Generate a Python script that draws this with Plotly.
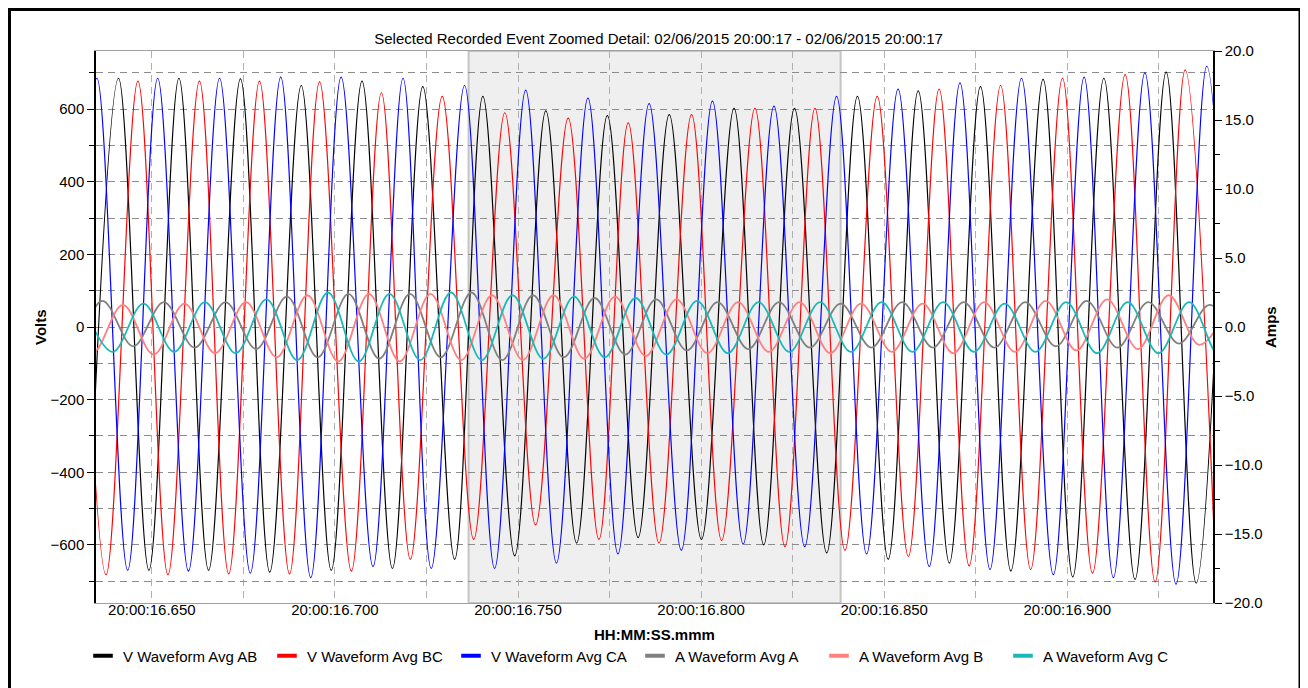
import plotly.graph_objects as go
from datetime import datetime, timedelta

# ---------------- data (times in ms relative to 20:00:16.650) ----------------
BASE = datetime(2015, 2, 6, 20, 0, 16, 650000)
X_RANGE_MS = [-15.25, 289.8]
EVENT_MS = [86.5, 188.1]  # selected (shaded) event window

# Voltage waveform extremes (peak / trough)
AB_T = [-17.6, -9.1, -0.8, 7.4, 15.5, 24.2, 32.2, 40.8, 49.0, 57.4, 65.7, 74.0, 82.7, 90.4, 99.1,
        107.6, 116.0, 124.4, 132.8, 141.3, 150.1, 159.0, 167.1, 175.5, 184.3, 192.7, 201.1, 209.3,
        217.8, 226.3, 234.6, 243.4, 251.5, 260.0, 268.5, 277.0, 285.2, 293.6]
AB_V = [-670, 685, -670, 685, -670, 683, -675, 665, -670, 677, -665, 662, -640, 635, -630,
        595, -595, 582, -580, 585, -585, 602, -600, 602, -622, 635, -640, 650,
        -650, 662, -672, 682, -688, 685, -695, 702, -705, 700]

BC_T = [-20.6, -12.5, -3.8, 4.4, 13.0, 21.0, 29.4, 37.6, 45.8, 54.5, 62.7, 70.6, 79.3, 87.9, 96.4,
        104.8, 113.7, 122.1, 130.1, 138.5, 147.4, 155.6, 164.7, 172.9, 181.1, 189.3, 198.1, 206.6,
        215.0, 223.2, 231.8, 240.0, 248.7, 256.9, 265.8, 274.0, 282.2, 290.6]
BC_V = [677, -682, 677, -682, 677, -680, 677, -680, 675, -672, 645, -640, 635, -585, 590,
        -545, 575, -585, 562, -595, 585, -588, 602, -605, 602, -615, 635, -632,
        655, -658, 665, -668, 685, -678, 695, -702, 708, -690]

CA_T = [-23.4, -15.0, -6.6, 1.6, 10.0, 18.5, 26.9, 35.2, 43.4, 51.7, 60.4, 68.6, 76.3, 85.4, 93.6,
        102.1, 110.5, 119.1, 127.3, 135.8, 144.6, 153.1, 161.5, 169.9, 178.3, 187.0, 195.2, 203.8,
        212.3, 220.7, 228.9, 237.5, 246.2, 254.6, 262.6, 271.2, 279.7, 288.1, 296.5]
CA_V = [-670, 685, -670, 685, -672, 685, -678, 688, -690, 688, -660, 685, -665, 665, -665,
        652, -650, 630, -625, 615, -615, 622, -598, 608, -605, 635, -625, 655,
        -660, 672, -668, 685, -682, 688, -690, 700, -708, 718, -700]

# Current waveform extremes (amps)
IA_T = [-30.3, -21.9, -13.5, -5.1, 3.3, 11.7, 20.1, 28.5, 36.9, 45.3, 53.7, 62.1, 70.5, 78.9, 87.3,
        95.7, 104.1, 112.5, 120.9, 129.3, 137.7, 146.1, 154.5, 162.9, 171.3, 179.7, 188.1, 196.5,
        204.9, 213.3, 221.7, 230.1, 238.5, 246.9, 255.3, 263.7, 272.1, 280.5, 288.9, 297.3]
IA_V = [1.8, -1.5, 1.9, -1.4, 1.8, -1.5, 1.8, -1.6, 2.2, -2.2, 2.4, -2.3, 2.4, -2.2, 2.5,
        -2.4, 2.3, -2.2, 2.1, -2.0, 2.0, -1.7, 1.8, -1.6, 1.8, -1.5, 1.7, -1.5,
        1.8, -1.5, 1.8, -1.5, 1.8, -1.4, 1.9, -1.5, 1.8, -1.2, 1.6, -1.4]

IB_T = [-24.7, -16.3, -7.9, 0.5, 8.9, 17.3, 25.7, 34.1, 42.5, 50.9, 59.3, 67.7, 76.1, 84.5, 92.9,
        101.3, 109.7, 118.1, 126.5, 134.9, 143.3, 151.7, 160.1, 168.5, 176.9, 185.3, 193.7, 202.1,
        210.5, 218.9, 227.3, 235.7, 244.1, 252.5, 260.9, 269.3, 277.7, 286.1, 294.5]
IB_V = [1.7, -1.9, 1.6, -2.0, 1.7, -1.9, 1.8, -2.2, 2.3, -2.5, 2.4, -2.5, 2.4, -2.4, 2.3,
        -2.4, 2.3, -2.3, 2.2, -2.1, 2.0, -1.9, 1.8, -1.8, 1.8, -1.9, 1.7, -1.8,
        1.7, -1.9, 1.8, -1.8, 1.9, -1.7, 2.0, -1.6, 2.3, -1.3, 1.7]

IC_T = [-19.1, -10.7, -2.3, 6.1, 14.5, 22.9, 31.3, 39.7, 48.1, 56.5, 64.9, 73.3, 81.7, 90.1, 98.5,
        106.9, 115.3, 123.7, 132.1, 140.5, 148.9, 157.3, 165.7, 174.1, 182.5, 190.9, 199.3, 207.7,
        216.1, 224.5, 232.9, 241.3, 249.7, 258.1, 266.5, 274.9, 283.3, 291.7, 300.1]
IC_V = [1.8, -1.8, 1.7, -1.8, 1.8, -1.9, 2.0, -2.4, 2.5, -2.5, 2.4, -2.4, 2.5, -2.4, 2.3,
        -2.3, 2.2, -2.2, 2.1, -2.0, 1.9, -1.9, 1.8, -1.8, 1.8, -1.8, 1.8, -1.8,
        1.8, -1.8, 1.7, -1.8, 1.8, -1.9, 1.8, -1.9, 1.8, -2.1, 1.7]

SERIES = [
    ("V Waveform Avg AB", AB_T, AB_V, "#000000", "y"),
    ("V Waveform Avg BC", BC_T, BC_V, "#ff0000", "y"),
    ("V Waveform Avg CA", CA_T, CA_V, "#0000ff", "y"),
    ("A Waveform Avg A", IA_T, IA_V, "#808080", "y2"),
    ("A Waveform Avg B", IB_T, IB_V, "#ff8080", "y2"),
    ("A Waveform Avg C", IC_T, IC_V, "#1ab8b8", "y2"),
]

TITLE = "Selected Recorded Event Zoomed Detail: 02/06/2015 20:00:17 - 02/06/2015 20:00:17"


def to_time(ms_list):
    return [BASE + timedelta(microseconds=int(round(m * 1000))) for m in ms_list]


FONT = "Liberation Sans, Arial, sans-serif"
fig = go.Figure()

for name, t, v, color, yax in SERIES:
    fig.add_trace(go.Scatter(
        x=to_time(t), y=v, mode="lines", name=name, yaxis=yax, showlegend=False,
        line=dict(color=color, width=1.2 if yax == "y" else 1.8, shape="spline", smoothing=1.0),
        hoverinfo="skip",
    ))

# legend entries (short thick bars)
for name, t, v, color, yax in SERIES:
    fig.add_trace(go.Scatter(
        x=[None], y=[None], mode="markers", name=name, yaxis=yax, showlegend=True,
        marker=dict(symbol="line-ew", size=14, color=color, line=dict(color=color, width=4)),
    ))

# page offset (default body margin) and plot geometry (figure pixels)
OFF = 8
W, H = 1300, 680
L, T = 96 - OFF, 51 - OFF
R = W - (1213 - OFF)
B = H - (603 - OFF)
PW, PH = W - L - R, H - T - B


def fx(page_x):
    return (page_x - OFF - L) / PW


def fy(page_y):
    return (H - B - (page_y - OFF)) / PH


grid_dash = "7px,5px"
fig.update_layout(
    width=W, height=H,
    margin=dict(l=L, r=R, t=T, b=B, autoexpand=False),
    paper_bgcolor="white", plot_bgcolor="white",
    font=dict(family=FONT, size=15, color="black"),
    title=dict(text=TITLE, x=fx(655), xanchor="center", y=1 - (39 - OFF) / H, yanchor="middle",
               font=dict(family=FONT, size=15, color="black")),
    xaxis=dict(
        type="date", range=to_time(X_RANGE_MS),
        tick0=BASE, dtick=50, tickformat="%H:%M:%S.%L",
        ticks="", showline=True, linecolor="#a0a0a0", linewidth=1, mirror=True,
        showgrid=True, gridcolor="#b0b0b0", gridwidth=1, griddash=grid_dash,
        minor=dict(dtick=25, tick0=BASE, showgrid=True, gridcolor="#b0b0b0", griddash=grid_dash),
        zeroline=False, tickfont=dict(size=15), ticklabelstandoff=-7, automargin=False,
    ),
    yaxis=dict(
        range=[-760, 760], dtick=200, tick0=0, tickformat="d",
        ticks="outside", ticklen=7, tickcolor="black", tickwidth=1,
        showline=True, linecolor="black", linewidth=1.5,
        showgrid=True, gridcolor="#8c8c8c", gridwidth=1, griddash=grid_dash,
        minor=dict(dtick=100, tick0=0, ticks="outside", ticklen=5, tickcolor="black",
                   showgrid=True, gridcolor="#8c8c8c", griddash=grid_dash),
        zeroline=False, tickfont=dict(size=15), automargin=False,
    ),
    yaxis2=dict(
        overlaying="y", side="right", range=[-20, 20], dtick=5, tick0=0, tickformat=".1f",
        ticks="outside", ticklen=7, tickcolor="black", tickwidth=1,
        showline=True, linecolor="black", linewidth=1.5, showgrid=False, zeroline=False,
        minor=dict(dtick=2.5, tick0=0, ticks="outside", ticklen=5, tickcolor="black"),
        tickfont=dict(size=15), automargin=False,
    ),
    legend=dict(
        orientation="h", x=fx(83), xanchor="left", y=fy(656), yanchor="middle",
        entrywidth=139, entrywidthmode="pixels", font=dict(size=15),
        bgcolor="rgba(0,0,0,0)", itemclick=False,
    ),
    showlegend=True,
)

# shaded event window
ev = to_time(EVENT_MS)
fig.add_shape(type="rect", xref="x", yref="paper", x0=ev[0], x1=ev[1], y0=0, y1=1,
              fillcolor="#efefef", line=dict(color="#c4c4c4", width=2), layer="below")

# outer frame
fig.add_shape(type="rect", xref="paper", yref="paper",
              x0=fx(9.5), x1=fx(1300), y0=fy(700), y1=fy(9.5),
              line=dict(color="black", width=3), fillcolor="rgba(0,0,0,0)")

# axis titles
fig.add_annotation(text="<b>Volts</b>", xref="paper", yref="paper", x=fx(40), y=fy(327),
                   xanchor="center", yanchor="middle",
                   textangle=-90, showarrow=False, font=dict(size=15))
fig.add_annotation(text="<b>Amps</b>", xref="paper", yref="paper", x=fx(1270), y=fy(327),
                   xanchor="center", yanchor="middle",
                   textangle=-90, showarrow=False, font=dict(size=15))
fig.add_annotation(text="<b>HH:MM:SS.mmm</b>", xref="paper", yref="paper", x=fx(654), y=fy(634),
                   xanchor="center", yanchor="middle",
                   showarrow=False, font=dict(size=15))

fig.write_html("out.html")
